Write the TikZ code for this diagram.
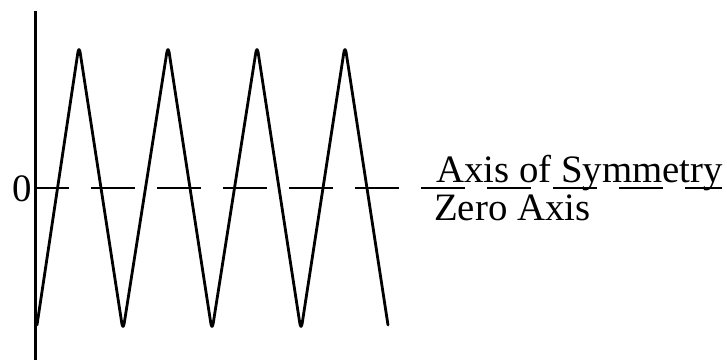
\documentclass[tikz,border=0pt]{standalone}
\usepackage{fontspec}
\setmainfont{Liberation Serif}
\begin{document}
\begin{tikzpicture}[x=1pt,y=-1pt,
  lbl/.style={inner sep=0pt,font=\fontsize{38.8}{38.8}\selectfont},
  wave/.style={line width=2.8pt,line join=round,line cap=round,rounded corners=8pt},
  axisline/.style={line width=3.2pt},
  symline/.style={line width=2.4pt,dash pattern=on 44pt off 22pt,dash phase=11pt}]
\useasboundingbox (0,0) rectangle (727,360);
\draw[axisline] (35.5,11) -- (35.5,360);
\draw[symline] (36,188) -- (722,188);
\draw[wave] (37,325) -- (79,45) -- (123,331) -- (168,45) -- (212,331) -- (257,45) -- (301,331) -- (345,45) -- (388,325);
\node[lbl,anchor=base east] (zero) at (32,201) {0};
\node[lbl,anchor=base west] (sym) at (436,182) {Axis of Symmetry};
\node[lbl,anchor=base west] (zax) at (434,220) {Zero Axis};
\end{tikzpicture}
\end{document}
